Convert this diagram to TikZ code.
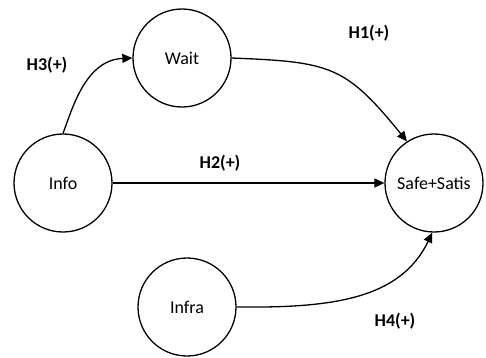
\documentclass[tikz,border=0pt]{standalone}
\usepackage{fontspec}
\setmainfont{Carlito}
\usetikzlibrary{arrows.meta}
\begin{document}
\begin{tikzpicture}[x=1pt,y=-1pt,
  var/.style={circle,draw,line width=1.3pt,minimum size=98pt,inner sep=0pt,font=\fontsize{18}{21}\selectfont},
  hyp/.style={font=\bfseries\fontsize{18}{21}\selectfont},
  link/.style={line width=1.3pt,-{Triangle[length=10pt,width=9pt]}}]
\useasboundingbox (0,0) rectangle (486,357);
\node[var] (wait) at (182,58) {Wait};
\node[var] (info) at (63,183) {Info};
\node[var] (safe) at (434,183) {Safe+Satis};
\node[var] (infra) at (187,307) {Infra};
\draw[link] (info.90) .. controls (72,110) and (85,60) .. (wait.west);
\draw[link] (wait.east) .. controls (330,62) and (345,65) .. (safe.123);
\draw[link] (info.east) -- (safe.west);
\draw[link] (infra.east) .. controls (330,308) and (400,300) .. (safe.-92);
\node[hyp] (h3) at (47,65) {H3(+)};
\node[hyp] (h1) at (369,33) {H1(+)};
\node[hyp] (h2) at (220,163) {H2(+)};
\node[hyp] (h4) at (395,321) {H4(+)};
\end{tikzpicture}
\end{document}
